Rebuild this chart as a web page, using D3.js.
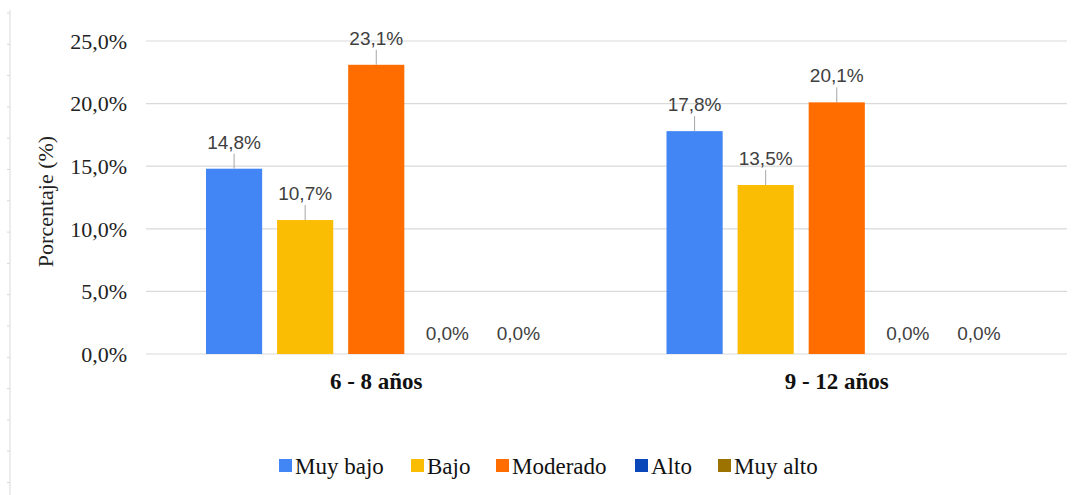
<!DOCTYPE html>
<html lang="es">
<head>
<meta charset="utf-8">
<script src="https://d3js.org/d3.v7.min.js"></script>
<style>
  body { margin: 0; background: #fff; }
</style>
</head>
<body>
<script>
  // data
  const groups = ["6 - 8 años", "9 - 12 años"];
  const levels = ["Muy bajo", "Bajo", "Moderado", "Alto", "Muy alto"];
  const colors = ["#4285f4", "#fbbc04", "#ff6d01", "#0b47b8", "#9c7300"];
  const values = [
    [14.8, 10.7, 23.1, 0, 0],
    [17.8, 13.5, 20.1, 0, 0]
  ];
  const yTicks = [0, 5, 10, 15, 20, 25];

  const W = 1077, H = 495;
  const margin = { top: 41, right: 10, bottom: 141, left: 146 };
  const plotW = W - margin.left - margin.right;
  const plotH = H - margin.top - margin.bottom;
  const serif = "'Liberation Serif', 'Times New Roman', serif";
  const sans = "'Liberation Sans', Arial, sans-serif";

  const svg = d3.select("body").append("svg")
    .attr("width", W)
    .attr("height", H);

  // left frame line with little ticks
  svg.append("line")
    .attr("x1", 10).attr("x2", 10).attr("y1", 10).attr("y2", H)
    .attr("stroke", "#d9d9d9");
  for (let yy = 13; yy < H; yy += 31.3) {
    svg.append("line")
      .attr("x1", 7).attr("x2", 10).attr("y1", yy).attr("y2", yy)
      .attr("stroke", "#d9d9d9");
  }

  const g = svg.append("g")
    .attr("transform", "translate(" + margin.left + "," + margin.top + ")");

  const y = d3.scaleLinear().domain([0, 25]).range([plotH, 0]);
  const x0 = d3.scaleBand().domain(groups).range([0, plotW]).paddingInner(0).paddingOuter(0);
  const x1 = d3.scaleBand().domain(levels).range([60, x0.bandwidth() - 60]).paddingInner(0.21).paddingOuter(0);

  const fmt = v => v.toFixed(1).replace(".", ",") + "%";

  // grid
  g.append("g")
    .selectAll("line")
    .data(yTicks)
    .join("line")
    .attr("x1", 0).attr("x2", plotW)
    .attr("y1", d => y(d)).attr("y2", d => y(d))
    .attr("stroke", "#d9d9d9")
    .attr("stroke-width", 1.2);

  // y tick labels
  g.append("g")
    .selectAll("text")
    .data(yTicks)
    .join("text")
    .attr("x", -19)
    .attr("y", d => y(d))
    .attr("dy", "0.35em")
    .attr("text-anchor", "end")
    .style("font-family", serif)
    .style("font-size", "22px")
    .style("fill", "#222")
    .text(d => d.toFixed(1).replace(".", ",") + "%");

  // y axis title
  svg.append("text")
    .attr("transform", "translate(53," + (margin.top + plotH / 2 + 4) + ") rotate(-90)")
    .attr("text-anchor", "middle")
    .style("font-family", serif)
    .style("font-size", "22px")
    .style("fill", "#222")
    .text("Porcentaje (%)");

  // bars
  const grp = g.selectAll(".grp")
    .data(groups)
    .join("g")
    .attr("class", "grp")
    .attr("transform", d => "translate(" + x0(d) + ",0)");

  grp.each(function (gname, gi) {
    const sel = d3.select(this);
    const rows = levels.map((l, i) => ({ level: l, v: values[gi][i], c: colors[i] }));

    sel.selectAll("rect")
      .data(rows)
      .join("rect")
      .attr("x", d => x1(d.level))
      .attr("y", d => y(d.v))
      .attr("width", x1.bandwidth())
      .attr("height", d => plotH - y(d.v))
      .attr("fill", d => d.c);

    // leader lines for non-zero values
    sel.selectAll("line.lead")
      .data(rows.filter(d => d.v > 0))
      .join("line")
      .attr("class", "lead")
      .attr("x1", d => x1(d.level) + x1.bandwidth() / 2)
      .attr("x2", d => x1(d.level) + x1.bandwidth() / 2)
      .attr("y1", d => y(d.v))
      .attr("y2", d => y(d.v) - 15)
      .attr("stroke", "#a6a6a6");

    sel.selectAll("text.lbl")
      .data(rows)
      .join("text")
      .attr("class", "lbl")
      .attr("x", d => x1(d.level) + x1.bandwidth() / 2)
      .attr("y", d => d.v > 0 ? y(d.v) - 20 : y(0) - 14)
      .attr("text-anchor", "middle")
      .style("font-family", sans)
      .style("font-size", "19px")
      .style("fill", "#404040")
      .text(d => fmt(d.v));
  });

  // x category labels
  g.append("g")
    .selectAll("text")
    .data(groups)
    .join("text")
    .attr("x", d => x0(d) + x0.bandwidth() / 2)
    .attr("y", plotH + 35)
    .attr("text-anchor", "middle")
    .style("font-family", serif)
    .style("font-size", "23px")
    .style("font-weight", "bold")
    .style("fill", "#111")
    .text(d => d);

  // legend
  const legend = svg.append("g").attr("transform", "translate(279,465)");
  const legX = [0, 132, 217, 356, 439];
  levels.forEach((l, i) => {
    const it = legend.append("g").attr("transform", "translate(" + legX[i] + ",0)");
    it.append("rect")
      .attr("x", 0).attr("y", -6)
      .attr("width", 13).attr("height", 13)
      .attr("fill", colors[i]);
    it.append("text")
      .attr("x", 16).attr("y", 1)
      .attr("dy", "0.35em")
      .style("font-family", serif)
      .style("font-size", "23px")
      .style("fill", "#111")
      .text(l);
  });
</script>
</body>
</html>
